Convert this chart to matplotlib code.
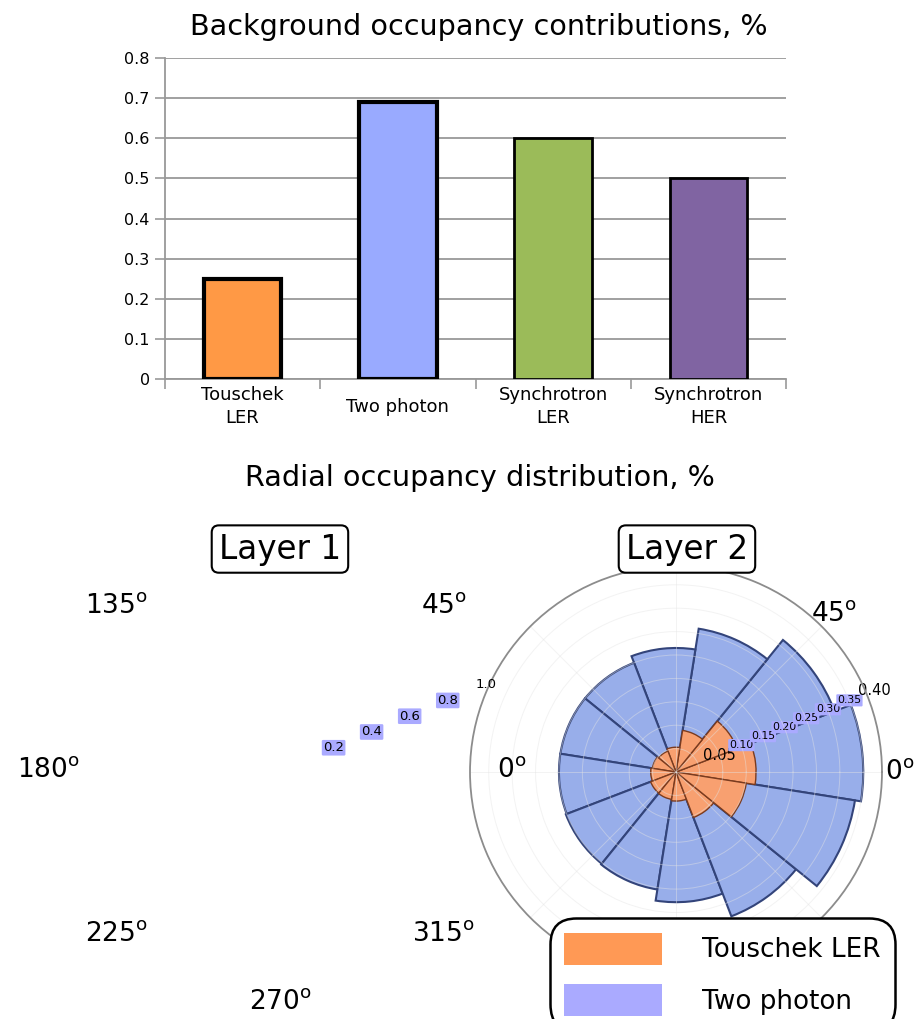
import numpy as np
import matplotlib
matplotlib.use('Agg')
import matplotlib.pyplot as plt
import matplotlib.transforms as mtransforms
from matplotlib.patches import Patch

# occupancy per background source
sources = ['Touschek\nLER', 'Two photon', 'Synchrotron\nLER', 'Synchrotron\nHER']
occupancy = [0.25, 0.69, 0.60, 0.50]
bar_colors = ['#ff9945', '#99aaff', '#9bbb59', '#8064a2']
bar_edge_lw = [3, 3, 2, 2]

# layer 2 radial distribution, 12 sectors of 30 deg
sector_deg = [6, 36, 66, 96, 126, 156, 186, 216, 246, 276, 306, 336]
touschek_ler = [0.171, 0.140, 0.090, 0.053, 0.048, 0.051, 0.054, 0.058, 0.059, 0.062, 0.104, 0.152]
two_photon = [0.400, 0.363, 0.310, 0.265, 0.250, 0.250, 0.250, 0.252, 0.254, 0.278, 0.330, 0.387]
sector_width_deg = 30

l1_rticks = [0.2, 0.4, 0.6, 0.8, 1.0]
l2_rticks = [0.05, 0.10, 0.15, 0.20, 0.25, 0.30, 0.35, 0.40]

l1_angles = [0, 45, 135, 180, 225, 270, 315]
l2_angles = [0, 45, 90, 135, 180, 225, 270, 315]

c_orange = '#ff9955'
c_lav = '#aaaaff'

fig = plt.figure(figsize=(9.14, 10.19), dpi=100)

# ---- bar chart ----
ax = fig.add_axes([0.1805, 0.628, 0.6795, 0.315])
x = np.arange(len(sources))
bars = ax.bar(x, occupancy, width=0.5, color=bar_colors, edgecolor='black', zorder=3)
for b, lw in zip(bars, bar_edge_lw):
    b.set_linewidth(lw)
ax.set_xlim(-0.5, 3.5)
ax.set_ylim(0, 0.8)
ax.set_yticks(np.arange(0, 0.81, 0.1))
ax.set_yticklabels(['0', '0.1', '0.2', '0.3', '0.4', '0.5', '0.6', '0.7', '0.8'], fontsize=11.5)
ax.set_xticks(x)
ax.set_xticklabels(sources, fontsize=13, linespacing=1.35)
for lab in ax.get_xticklabels():
    lab.set_va('center')
ax.set_xticks(np.arange(-0.5, 3.6, 1), minor=True)
ax.tick_params(axis='x', which='major', length=0, pad=20)
ax.tick_params(axis='x', which='minor', length=7, color='#999999', width=1.2)
ax.tick_params(axis='y', length=7, color='#999999', width=1.2, pad=4)
ax.yaxis.grid(True, color='#999999', lw=1.3, zorder=0)
ax.set_axisbelow(True)
for s in ['top', 'right']:
    ax.spines[s].set_visible(False)
for s in ['left', 'bottom']:
    ax.spines[s].set_color('#999999')
    ax.spines[s].set_linewidth(1.3)

fig.text(0.524, 0.9735, 'Background occupancy contributions, %', fontsize=20.6,
         ha='center', va='center')
fig.text(0.5246, 0.531, 'Radial occupancy distribution, %', fontsize=20.6,
         ha='center', va='center')

deg = r'$^\mathrm{o}$'


def nudge(label, dx, dy):
    # shift a tick label by a few pixels
    label.set_transform(mtransforms.offset_copy(label.get_transform(), fig=fig,
                                                x=dx, y=dy, units='dots'))


# ---- layer 2 rose ----
ax2 = fig.add_axes([0.5142, 0.0402, 0.4508, 0.4043], projection='polar')
th = np.radians(sector_deg)
w = np.radians(sector_width_deg)
ax2.bar(th, two_photon, width=w, color='#98aeea', edgecolor='#33447a', lw=1.5)
ax2.bar(th, touschek_ler, width=w, color='#f8a070', edgecolor='#7a3b1f', lw=1.0)
ax2.set_rlim(0, 0.44)
ax2.set_thetagrids(l2_angles, ['0' + deg, '45' + deg] + [''] * 6, fontsize=19)
ax2.tick_params(axis='x', pad=2)
ax2.set_rgrids(l2_rticks, ['%.2f' % v for v in l2_rticks], angle=22.5)
ax2.grid(True, color='#e4e4e4', lw=0.7, alpha=0.45)
ax2.spines['polar'].set_color('#8c8c8c')
ax2.spines['polar'].set_linewidth(1.3)
for i, t in enumerate(ax2.yaxis.get_major_ticks()):
    if i == 0:
        t.label1.set_fontsize(10.5)
        nudge(t.label1, 5, 0)
    elif i == len(l2_rticks) - 1:
        t.label1.set_fontsize(10.5)
        nudge(t.label1, 9, 2)
    else:
        t.label1.set_fontsize(7.8)
        t.label1.set_bbox(dict(boxstyle='round,pad=0.1', fc=c_lav, ec='none'))
        nudge(t.label1, 10, 4)

# ---- layer 1 (empty) ----
ax1 = fig.add_axes([0.081, 0.0422, 0.4508, 0.4043], projection='polar')
ax1.set_facecolor('none')
ax1.set_rlim(0, 1.0)
ax1.set_thetagrids(l1_angles, [str(a) + deg for a in l1_angles], fontsize=19)
ax1.tick_params(axis='x', pad=8)
ax1.set_rgrids(l1_rticks, ['%.1f' % v for v in l1_rticks], angle=22.5)
ax1.grid(False)
ax1.spines['polar'].set_visible(False)
for i, t in enumerate(ax1.yaxis.get_major_ticks()):
    t.label1.set_fontsize(9.5)
    if i < len(l1_rticks) - 1:
        t.label1.set_bbox(dict(boxstyle='round,pad=0.1', fc=c_lav, ec='none'))
    nudge(t.label1, 5, 0)

for xc, name in [(0.3063, 'Layer 1'), (0.7516, 'Layer 2')]:
    fig.text(xc, 0.4612, name, fontsize=23.5, ha='center', va='center',
             bbox=dict(boxstyle='round,pad=0.22', fc='white', ec='black', lw=1.5))

leg = fig.legend(handles=[Patch(fc=c_orange), Patch(fc=c_lav)],
                 labels=['Touschek LER', 'Two photon'],
                 loc='upper left', bbox_to_anchor=(0.6018, 0.099),
                 borderaxespad=0, fontsize=18.9, handlelength=3.7, handleheight=1.5,
                 handletextpad=1.55, borderpad=0.55, labelspacing=0.75,
                 fancybox=True, framealpha=1, edgecolor='black')
leg.get_frame().set_linewidth(1.8)
leg.get_frame().set_boxstyle('round,pad=0,rounding_size=1.0')

fig.savefig('out.png', dpi=100)
